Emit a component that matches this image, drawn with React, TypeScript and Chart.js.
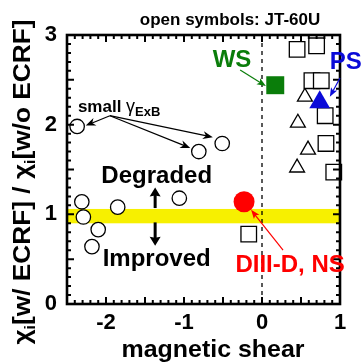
import React, { useEffect, useRef } from "react";
import { Chart, registerables } from "chart.js";

Chart.register(...registerables);

// ---------- data ----------
// JT-60U open circles
const circleX = [-2.37, -0.51, -0.81, -2.31, -2.29, -2.1, -2.18, -1.85, -1.06];
const circleY = [1.98, 1.79, 1.7, 1.14, 0.97, 0.83, 0.64, 1.08, 1.18];
// JT-60U open squares
const squareX = [0.45, 0.7, 0.64, 0.76, 0.81, 0.82, 0.92, -0.17];
const squareY = [2.84, 2.88, 2.49, 2.49, 2.1, 1.79, 1.47, 0.78];
// JT-60U open triangles
const triX = [0.55, 0.46, 0.59, 0.45];
const triY = [2.31, 2.02, 1.72, 1.52];
// DIII-D filled symbols
const nsX = [-0.23];
const nsY = [1.14];
const wsX = [0.17];
const wsY = [2.44];
const psX = [0.74];
const psY = [2.25];

const xTickValues = [-2, -1, 0, 1];
const yTickValues = [0, 1, 2, 3];
const xRange = [-2.5, 1];
const yRange = [0, 3];
const bandRange = [0.9, 1.06];
const dividerX = 0;

const FONT = "'Liberation Sans', Arial, sans-serif";

const toPts = (xs: number[], ys: number[]) => xs.map((x, i) => ({ x, y: ys[i] }));

type Part = { t: string; size: number; weight?: string; dy?: number };

function richWidth(ctx: CanvasRenderingContext2D, parts: Part[]) {
  let w = 0;
  for (const p of parts) {
    ctx.font = `${p.weight ?? "bold"} ${p.size}px ${FONT}`;
    w += ctx.measureText(p.t).width;
  }
  return w;
}

function drawRich(
  ctx: CanvasRenderingContext2D,
  parts: Part[],
  x: number,
  y: number,
  align: "left" | "center",
  color: string,
  targetWidth?: number
) {
  const w = richWidth(ctx, parts);
  const sx = targetWidth ? targetWidth / w : 1;
  ctx.save();
  ctx.translate(x, y);
  ctx.scale(sx, 1);
  let cx = align === "center" ? -w / 2 : 0;
  ctx.fillStyle = color;
  ctx.textBaseline = "alphabetic";
  ctx.textAlign = "left";
  for (const p of parts) {
    ctx.font = `${p.weight ?? "bold"} ${p.size}px ${FONT}`;
    ctx.fillText(p.t, cx, p.dy ?? 0);
    cx += ctx.measureText(p.t).width;
  }
  ctx.restore();
}

function arrow(
  ctx: CanvasRenderingContext2D,
  x1: number,
  y1: number,
  x2: number,
  y2: number,
  color: string,
  lw: number,
  headLen: number,
  headW: number,
  notch = 0
) {
  const ang = Math.atan2(y2 - y1, x2 - x1);
  const c = Math.cos(ang);
  const s = Math.sin(ang);
  const bx = x2 - headLen * c;
  const by = y2 - headLen * s;
  ctx.save();
  ctx.strokeStyle = color;
  ctx.fillStyle = color;
  ctx.lineWidth = lw;
  ctx.beginPath();
  ctx.moveTo(x1, y1);
  ctx.lineTo(x2 - (headLen - notch) * c * 0.9, y2 - (headLen - notch) * s * 0.9);
  ctx.stroke();
  ctx.beginPath();
  ctx.moveTo(x2, y2);
  ctx.lineTo(bx + headW * s, by - headW * c);
  ctx.lineTo(x2 - (headLen - notch) * c, y2 - (headLen - notch) * s);
  ctx.lineTo(bx - headW * s, by + headW * c);
  ctx.closePath();
  ctx.fill();
  ctx.restore();
}

// annotation anchors in data coordinates
const smallOrigin = [-1.95, 2.1];
const smallTargets = [
  [-2.26, 1.99],
  [-0.63, 1.86],
  [-0.92, 1.74],
];

const decorPlugin = {
  id: "decor",
  beforeDatasetsDraw(chart: any) {
    const { ctx, chartArea: a, scales } = chart;
    const xs = scales.x;
    const ys = scales.y;
    ctx.save();
    const yTop = ys.getPixelForValue(bandRange[1]);
    const yBot = ys.getPixelForValue(bandRange[0]);
    ctx.fillStyle = "#f7f000";
    ctx.fillRect(a.left, yTop, a.right - a.left, yBot - yTop);
    const x0 = xs.getPixelForValue(dividerX);
    ctx.setLineDash([4, 4]);
    ctx.lineWidth = 1.3;
    ctx.strokeStyle = "#000";
    ctx.beginPath();
    ctx.moveTo(x0, a.top);
    ctx.lineTo(x0, a.bottom);
    ctx.stroke();
    ctx.restore();
  },
  afterDatasetsDraw(chart: any) {
    const { ctx, chartArea: a, scales } = chart;
    const xs = scales.x;
    const ys = scales.y;
    const X = (v: number) => xs.getPixelForValue(v);
    const Y = (v: number) => ys.getPixelForValue(v);
    ctx.save();
    // minor/major ticks on all four sides, pointing inward
    ctx.strokeStyle = "#000";
    ctx.lineWidth = 2;
    ctx.beginPath();
    for (let i = Math.round(xRange[0] * 10); i <= Math.round(xRange[1] * 10); i++) {
      const px = X(i / 10);
      const len = i % 5 === 0 ? 7 : 4;
      ctx.moveTo(px, a.bottom);
      ctx.lineTo(px, a.bottom - len);
      ctx.moveTo(px, a.top);
      ctx.lineTo(px, a.top + len);
    }
    for (let i = Math.round(yRange[0] * 10); i <= Math.round(yRange[1] * 10); i++) {
      const py = Y(i / 10);
      const len = i % 5 === 0 ? 7 : 4;
      ctx.moveTo(a.left, py);
      ctx.lineTo(a.left + len, py);
      ctx.moveTo(a.right, py);
      ctx.lineTo(a.right - len, py);
    }
    ctx.stroke();
    // frame
    ctx.lineWidth = 2.6;
    ctx.strokeRect(a.left, a.top, a.right - a.left, a.bottom - a.top);

    // ---- annotations ----
    // WS
    drawRich(ctx, [{ t: "WS", size: 24 }], X(-0.385), Y(2.74) + 9, "center", "#0a7d0a");
    arrow(ctx, X(-0.28), Y(2.61), X(0.05), Y(2.43), "#0a7d0a", 1.2, 9, 3.5, 2);
    // PS
    drawRich(ctx, [{ t: "PS", size: 24 }], X(0.87), Y(2.72) + 9, "left", "#0a0ad8");
    arrow(ctx, X(1.0), Y(2.52), X(0.87), Y(2.31), "#0a0ad8", 1.2, 9, 3.5, 2);
    // small gamma_ExB
    drawRich(
      ctx,
      [
        { t: "small ", size: 17 },
        { t: "γ", size: 18, weight: "normal" },
        { t: "ExB", size: 13, dy: 4 },
      ],
      X(-2.36),
      Y(2.14),
      "left",
      "#000"
    );
    for (const t of smallTargets) {
      arrow(ctx, X(smallOrigin[0]), Y(smallOrigin[1]), X(t[0]), Y(t[1]), "#000", 1.2, 10, 4, 3);
    }
    // Degraded / Improved
    drawRich(ctx, [{ t: "Degraded", size: 24 }], X(-1.35), Y(1.44) + 8, "center", "#000");
    drawRich(ctx, [{ t: "Improved", size: 24 }], X(-1.35), Y(0.51) + 8, "center", "#000");
    arrow(ctx, X(-1.37), Y(1.07), X(-1.37), Y(1.3), "#000", 3, 9, 5.5, 1);
    arrow(ctx, X(-1.37), Y(0.91), X(-1.37), Y(0.65), "#000", 3, 9, 5.5, 1);
    // DIII-D, NS
    drawRich(ctx, [{ t: "DIII-D, NS", size: 24 }], X(0.36), Y(0.46) + 9, "center", "#ff0000");
    arrow(ctx, X(0.27), Y(0.6), X(-0.14), Y(1.05), "#ff0000", 1.2, 9, 3.5, 2);
    ctx.restore();
  },
  afterDraw(chart: any) {
    const { ctx, scales } = chart;
    const xs = scales.x;
    ctx.save();
    // top note
    drawRich(ctx, [{ t: "open symbols: JT-60U", size: 17 }], xs.getPixelForValue(-0.41), 25, "center", "#000");
    // x title
    drawRich(ctx, [{ t: "magnetic shear", size: 24 }], 213, 357, "center", "#000", 183);
    // y title (rotated)
    ctx.translate(30, 182);
    ctx.rotate(-Math.PI / 2);
    drawRich(
      ctx,
      [
        { t: "χ", size: 23 },
        { t: "i", size: 14, dy: 5 },
        { t: "[w/ ECRF] / ", size: 23 },
        { t: "χ", size: 23 },
        { t: "i", size: 14, dy: 5 },
        { t: "[w/o ECRF]", size: 23 },
      ],
      0,
      0,
      "center",
      "#000",
      325
    );
    ctx.restore();
  },
};

export default function App() {
  const ref = useRef<HTMLCanvasElement | null>(null);
  useEffect(() => {
    if (!ref.current) return;
    const open = { backgroundColor: "#ffffff", borderColor: "#000000", borderWidth: 1.3 };
    const chart = new Chart(ref.current, {
      type: "scatter",
      data: {
        datasets: [
          { label: "DIII-D NS", data: toPts(nsX, nsY), pointStyle: "circle", pointRadius: 10.5, backgroundColor: "#ff0000", borderColor: "#ff0000", borderWidth: 0, order: 0, clip: false } as any,
          { label: "DIII-D WS", data: toPts(wsX, wsY), pointStyle: "rect", pointRadius: 12.7, backgroundColor: "#0a7d0a", borderColor: "#0a7d0a", borderWidth: 0, order: 0, clip: false } as any,
          { label: "DIII-D PS", data: toPts(psX, psY), pointStyle: "triangle", pointRadius: 12, backgroundColor: "#0a0ad8", borderColor: "#0a0ad8", borderWidth: 0, order: 0, clip: false } as any,
          { label: "JT-60U circles", data: toPts(circleX, circleY), pointStyle: "circle", pointRadius: 7.2, ...open, order: 1, clip: false } as any,
          { label: "JT-60U squares", data: toPts(squareX, squareY), pointStyle: "rect", pointRadius: 11, ...open, order: 1, clip: false } as any,
          { label: "JT-60U triangles", data: toPts(triX, triY), pointStyle: "triangle", pointRadius: 8.6, ...open, order: 1, clip: false } as any,
        ],
      },
      options: {
        responsive: false,
        animation: false,
        events: [],
        layout: { padding: { top: 35, right: 21, left: 0, bottom: 0 } },
        plugins: { legend: { display: false }, tooltip: { enabled: false }, title: { display: false } },
        scales: {
          x: {
            type: "linear",
            min: xRange[0],
            max: xRange[1],
            grid: { display: false, drawTicks: false },
            border: { display: false },
            afterFit: (s: any) => {
              s.height = 58;
            },
            afterBuildTicks: (s: any) => {
              s.ticks = xTickValues.map((v) => ({ value: v }));
            },
            ticks: {
              padding: 6,
              color: "#000",
              font: { family: FONT, weight: "bold", size: 22 },
              maxRotation: 0,
              autoSkip: false,
              callback: (v: any) => String(v),
            },
          },
          y: {
            type: "linear",
            min: yRange[0],
            max: yRange[1],
            grid: { display: false, drawTicks: false },
            border: { display: false },
            afterFit: (s: any) => {
              s.width = 67;
            },
            afterBuildTicks: (s: any) => {
              s.ticks = yTickValues.map((v) => ({ value: v }));
            },
            ticks: {
              padding: 10,
              color: "#000",
              font: { family: FONT, weight: "bold", size: 22 },
              autoSkip: false,
              callback: (v: any) => String(v),
            },
          },
        },
      },
      plugins: [decorPlugin],
    } as any);
    return () => chart.destroy();
  }, []);
  return (
    <div style={{ position: "absolute", left: 0, top: 0, width: 361, height: 362, background: "#fff" }}>
      <canvas ref={ref} width={361} height={362} style={{ display: "block" }} />
    </div>
  );
}
